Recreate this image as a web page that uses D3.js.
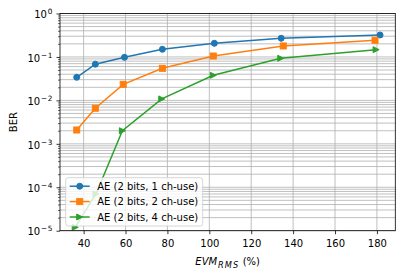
<!DOCTYPE html>
<html>
<head>
<meta charset="utf-8">
<script src="https://cdn.jsdelivr.net/npm/d3@7"></script>
<style>
  body { margin: 0; background: #fff; }
  svg { display: block; font-family: "DejaVu Sans", sans-serif; }
</style>
</head>
<body>
<div id="chart"></div>
<script>
// values
const evm1 = [36.7, 45.6, 59.5, 77.6, 102.4, 134.3, 181.5];
const ber1 = [0.034, 0.068, 0.098, 0.15, 0.206, 0.269, 0.32];
const evm2 = [36.7, 45.6, 58.9, 77.6, 101.9, 135.3, 179.1];
const ber2 = [0.00208, 0.0066, 0.0234, 0.0547, 0.105, 0.179, 0.2415];
const evm4 = [36.0, 45.9, 58.5, 77.3, 101.9, 134.1, 179.6];
const ber4 = [0.000012, 0.00007, 0.002, 0.0108, 0.0378, 0.093, 0.147];

const labels = ["AE (2 bits, 1 ch-use)", "AE (2 bits, 2 ch-use)", "AE (2 bits, 4 ch-use)"];
const colors = ["#1f77b4", "#ff7f0e", "#2ca02c"];
const markers = ["circle", "square", "triangle"];

const xTicks = [40, 60, 80, 100, 120, 140, 160, 180];
const yExps = [0, -1, -2, -3, -4, -5];

const W = 402, H = 278;
const margin = { top: 13.5, right: 6.7, bottom: 47.3, left: 60 };
const width = W - margin.left - margin.right;
const height = H - margin.top - margin.bottom;

const series = [
  evm1.map((v, i) => ({ x: v, y: ber1[i] })),
  evm2.map((v, i) => ({ x: v, y: ber2[i] })),
  evm4.map((v, i) => ({ x: v, y: ber4[i] }))
];

const svg = d3.select("#chart").append("svg")
  .attr("width", W)
  .attr("height", H);

const chart = svg.append("g")
  .attr("transform", `translate(${margin.left},${margin.top})`);

// matplotlib style 5% padding on x
const allX = evm1.concat(evm2, evm4);
const [xmin, xmax] = d3.extent(allX);
const pad = (xmax - xmin) * 0.05;

const x = d3.scaleLinear()
  .domain([xmin - pad, xmax + pad])
  .range([0, width]);

const y = d3.scaleLog()
  .domain([1e-5, 1])
  .range([height, 0]);

const majorY = yExps.map(e => Math.pow(10, e));
const minorY = [];
yExps.slice(0, -1).forEach(e => {
  for (let k = 2; k <= 9; k++) minorY.push(k * Math.pow(10, e - 1));
});

// grid
const grid = chart.append("g").attr("stroke", "#b0b0b0").attr("stroke-width", 0.8);
grid.selectAll(".gy").data(majorY.concat(minorY)).enter().append("line")
  .attr("x1", 0).attr("x2", width)
  .attr("y1", d => y(d)).attr("y2", d => y(d));
grid.selectAll(".gx").data(xTicks).enter().append("line")
  .attr("x1", d => x(d)).attr("x2", d => x(d))
  .attr("y1", 0).attr("y2", height);

// axes
const xAxis = chart.append("g")
  .attr("transform", `translate(0,${height})`)
  .call(d3.axisBottom(x).tickValues(xTicks).tickSize(3.5).tickSizeOuter(0).tickPadding(3.5));
xAxis.select(".domain").remove();
xAxis.selectAll(".tick line").attr("stroke-width", 0.8);
xAxis.selectAll(".tick text")
  .attr("y", 16.6).attr("dy", null)
  .style("font-size", "10px").style("font-family", "DejaVu Sans").attr("fill", "#000");

const yMinor = chart.append("g")
  .call(d3.axisLeft(y).tickValues(minorY).tickSize(2).tickSizeOuter(0).tickFormat(""));
yMinor.select(".domain").remove();
yMinor.selectAll(".tick line").attr("stroke-width", 0.6);

const yAxis = chart.append("g")
  .call(d3.axisLeft(y).tickValues(majorY).tickSize(3.5).tickSizeOuter(0).tickFormat(""));
yAxis.select(".domain").remove();
yAxis.selectAll(".tick line").attr("stroke-width", 0.8);
yAxis.selectAll(".tick text").each(function (d) {
  const t = d3.select(this)
    .attr("x", -7).attr("y", 4.2).attr("dy", null)
    .attr("text-anchor", "end")
    .attr("fill", "#000")
    .style("font-size", "10px").style("font-family", "DejaVu Sans");
  const e = Math.round(Math.log10(d));
  t.append("tspan").text("10");
  t.append("tspan").attr("dy", -4).attr("dx", 0.8).style("font-size", "7.3px")
    .style("letter-spacing", "0.6px")
    .text(e < 0 ? "\u2212" + (-e) : String(e));
});

// series
const line = d3.line().x(d => x(d.x)).y(d => y(d.y));

series.forEach((data, i) => {
  chart.append("path")
    .datum(data)
    .attr("fill", "none")
    .attr("stroke", colors[i])
    .attr("stroke-width", 1.5)
    .attr("d", line);
  data.forEach(d => drawMarker(chart, x(d.x), y(d.y), markers[i], colors[i]));
});

function drawMarker(g, px, py, kind, color) {
  if (kind === "circle") {
    g.append("circle").attr("cx", px).attr("cy", py).attr("r", 3)
      .attr("fill", color).attr("stroke", color).attr("stroke-width", 1);
  } else if (kind === "square") {
    g.append("rect").attr("x", px - 3).attr("y", py - 3).attr("width", 6).attr("height", 6)
      .attr("fill", color).attr("stroke", color).attr("stroke-width", 1);
  } else {
    g.append("path")
      .attr("d", `M${px + 3},${py}L${px - 3},${py - 3}L${px - 3},${py + 3}Z`)
      .attr("fill", color).attr("stroke", color).attr("stroke-width", 1);
  }
}

// spines
chart.append("rect")
  .attr("width", width).attr("height", height)
  .attr("fill", "none").attr("stroke", "#000").attr("stroke-width", 0.8);

// legend
const lg = svg.append("g").attr("transform", "translate(65.7,177.7)");
lg.append("rect")
  .attr("width", 137).attr("height", 48.3).attr("rx", 2.5)
  .attr("fill", "#fff").attr("fill-opacity", 0.8)
  .attr("stroke", "#cccccc").attr("stroke-width", 0.8);
labels.forEach((lab, i) => {
  const cy = 8.5 + i * 15.4;
  lg.append("line")
    .attr("x1", 4).attr("x2", 24).attr("y1", cy).attr("y2", cy)
    .attr("stroke", colors[i]).attr("stroke-width", 1.5);
  drawMarker(lg, 14, cy, markers[i], colors[i]);
  lg.append("text")
    .attr("x", 31.5).attr("y", cy + 3.6)
    .style("font-size", "10px")
    .text(lab);
});

// axis titles
const xl = svg.append("text")
  .attr("x", margin.left + width / 2)
  .attr("y", 265)
  .attr("text-anchor", "middle")
  .style("font-size", "10px");
xl.append("tspan").style("font-style", "italic").text("EVM");
xl.append("tspan").style("font-style", "italic").style("font-size", "8.2px")
  .style("letter-spacing", "1.2px").attr("dx", 0.8).attr("dy", 2.5).text("RMS");
xl.append("tspan").attr("dy", -2.5).text(" (%)");

svg.append("text")
  .attr("transform", `translate(17.3,${margin.top + height / 2}) rotate(-90)`)
  .attr("text-anchor", "middle")
  .style("font-size", "10px")
  .text("BER");
</script>
</body>
</html>
